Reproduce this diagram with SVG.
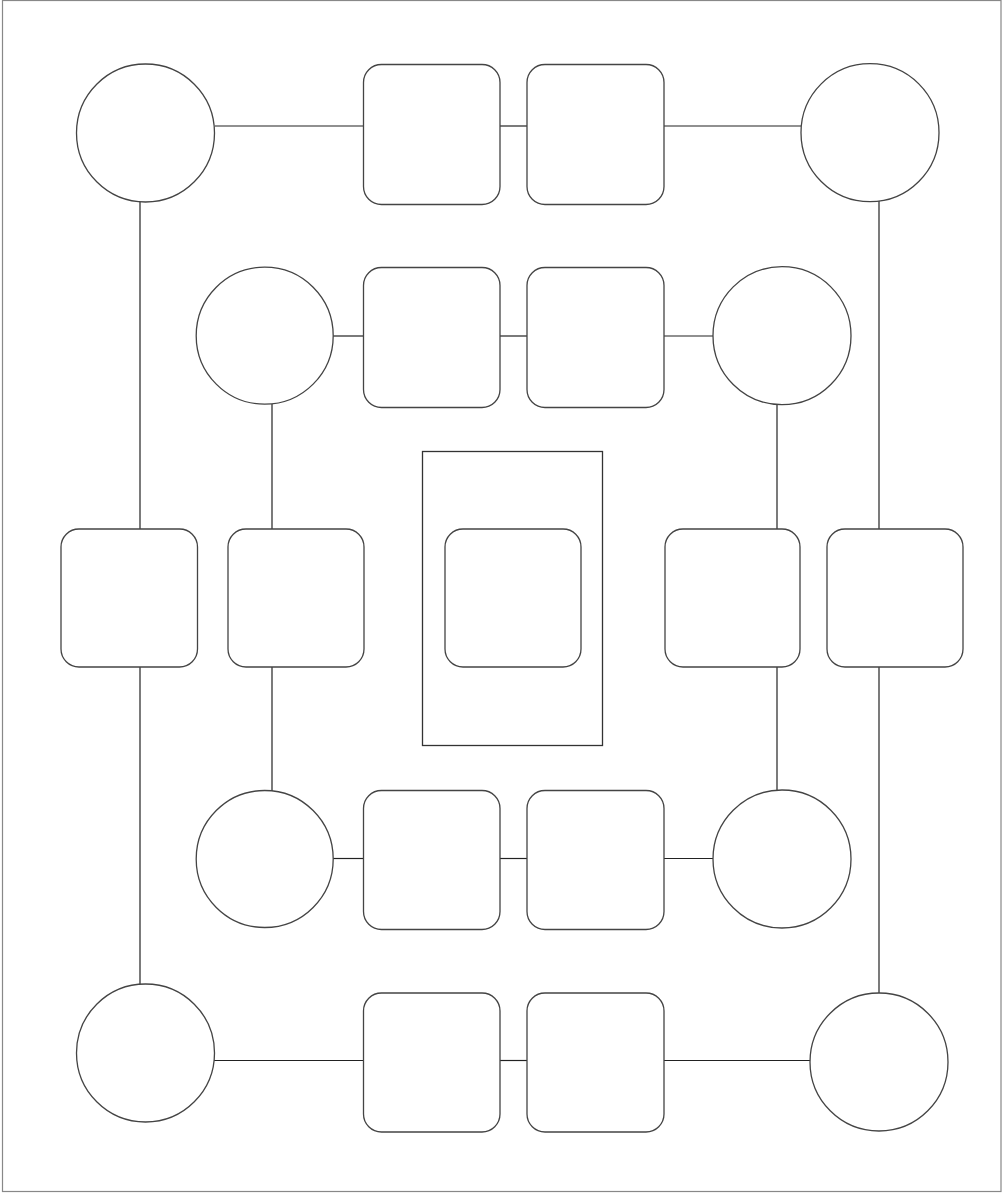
<svg xmlns="http://www.w3.org/2000/svg" width="1003" height="1193" viewBox="0 0 1003 1193">
<style>
.n{fill:#fff;stroke:#444;stroke-width:1.3}
.c{stroke:#222;stroke-width:1.2;fill:none}
.b{fill:#fff;stroke:#888;stroke-width:1.2}
.f{fill:none;stroke:#333;stroke-width:1.3}
</style>
<rect class="b" x="2.5" y="0.5" width="998.5" height="1191"/>
<g id="connectors">
<line class="c" x1="215" y1="126" x2="363" y2="126"/>
<line class="c" x1="500" y1="126" x2="527" y2="126"/>
<line class="c" x1="664" y1="126" x2="801" y2="126"/>
<line class="c" x1="333" y1="336" x2="363" y2="336"/>
<line class="c" x1="500" y1="336" x2="527" y2="336"/>
<line class="c" x1="664" y1="336" x2="713" y2="336"/>
<line class="c" x1="333" y1="858.5" x2="363" y2="858.5"/>
<line class="c" x1="500" y1="858.5" x2="527" y2="858.5"/>
<line class="c" x1="664" y1="858.5" x2="713" y2="858.5"/>
<line class="c" x1="214" y1="1060.5" x2="363" y2="1060.5"/>
<line class="c" x1="500" y1="1060.5" x2="527" y2="1060.5"/>
<line class="c" x1="664" y1="1060.5" x2="811" y2="1060.5"/>
<line class="c" x1="140" y1="201" x2="140" y2="529"/>
<line class="c" x1="140" y1="667" x2="140" y2="985"/>
<line class="c" x1="879" y1="201" x2="879" y2="529"/>
<line class="c" x1="879" y1="667" x2="879" y2="993"/>
<line class="c" x1="272" y1="404" x2="272" y2="529"/>
<line class="c" x1="272" y1="667" x2="272" y2="791"/>
<line class="c" x1="777" y1="404" x2="777" y2="529"/>
<line class="c" x1="777" y1="667" x2="777" y2="791"/>
</g>
<g id="frame"><rect class="f" x="422.5" y="451.5" width="180" height="294"/></g>
<g id="c1"><circle class="n" cx="145.5" cy="133" r="69"/></g>
<g id="r1"><rect class="n" x="363.5" y="64.5" width="136.5" height="140" rx="18"/></g>
<g id="r2"><rect class="n" x="527" y="64.5" width="137" height="140" rx="18"/></g>
<g id="c2"><circle class="n" cx="870" cy="132.7" r="69"/></g>
<g id="c3"><circle class="n" cx="264.7" cy="335.7" r="68.5"/></g>
<g id="r3"><rect class="n" x="363.5" y="267.5" width="136.5" height="140" rx="18"/></g>
<g id="r4"><rect class="n" x="527" y="267.5" width="137" height="140" rx="18"/></g>
<g id="c4"><circle class="n" cx="782" cy="335.7" r="69"/></g>
<g id="r5"><rect class="n" x="61" y="529" width="136.5" height="138" rx="18"/></g>
<g id="r6"><rect class="n" x="228" y="529" width="136" height="138" rx="18"/></g>
<g id="r7"><rect class="n" x="445" y="529" width="136" height="138" rx="18"/></g>
<g id="r8"><rect class="n" x="665" y="529" width="135" height="138" rx="18"/></g>
<g id="r9"><rect class="n" x="827" y="529" width="136" height="138" rx="18"/></g>
<g id="c5"><circle class="n" cx="264.7" cy="859" r="68.5"/></g>
<g id="r10"><rect class="n" x="363.5" y="790.5" width="136.5" height="139" rx="18"/></g>
<g id="r11"><rect class="n" x="527" y="790.5" width="137" height="139" rx="18"/></g>
<g id="c6"><circle class="n" cx="782" cy="859" r="69"/></g>
<g id="c7"><circle class="n" cx="145.5" cy="1053" r="69"/></g>
<g id="r12"><rect class="n" x="363.5" y="993" width="136.5" height="139" rx="18"/></g>
<g id="r13"><rect class="n" x="527" y="993" width="137" height="139" rx="18"/></g>
<g id="c8"><circle class="n" cx="879" cy="1062" r="69"/></g>
</svg>
